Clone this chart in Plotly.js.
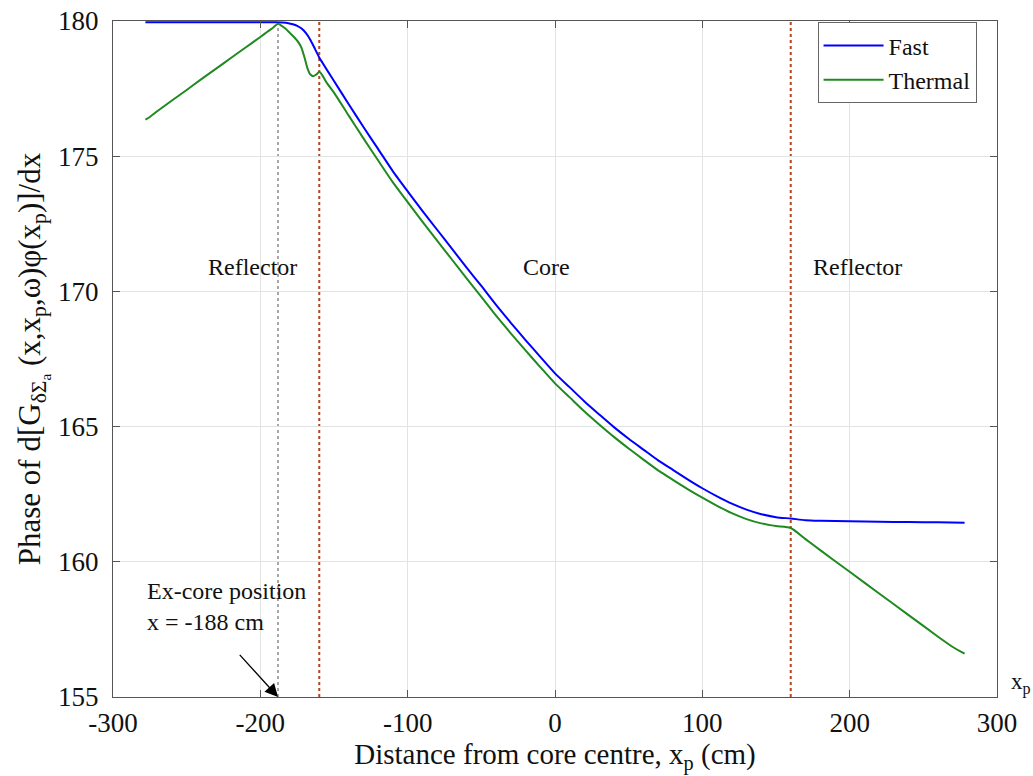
<!DOCTYPE html>
<html>
<head>
<meta charset="utf-8">
<script src="https://cdn.plot.ly/plotly-3.0.1.min.js"></script>
<style>html,body{margin:0;padding:0;background:#fff;}</style>
</head>
<body>
<div id="chart" style="width:1033px;height:776px;"></div>
<script>
// Fast group phase
const fastX = [-278, -250, -220, -200, -190, -185, -181, -178, -175, -172, -169, -166, -163, -160, -150, -140, -130, -120, -110, -100, -90, -80, -70, -60, -50, -40, -30, -20, -10, 0, 10, 20, 30, 40, 50, 60, 70, 80, 90, 100, 110, 120, 130, 140, 150, 160, 170, 180, 200, 220, 240, 260, 278];
const fastY = [179.95, 179.95, 179.95, 179.95, 179.95, 179.94, 179.92, 179.88, 179.82, 179.72, 179.55, 179.3, 178.98, 178.65, 177.78, 176.92, 176.08, 175.26, 174.44, 173.7, 172.98, 172.28, 171.58, 170.88, 170.2, 169.5, 168.84, 168.2, 167.58, 166.97, 166.45, 165.93, 165.45, 164.98, 164.55, 164.15, 163.75, 163.4, 163.05, 162.72, 162.42, 162.15, 161.93, 161.76, 161.65, 161.6, 161.54, 161.52, 161.5, 161.48, 161.47, 161.46, 161.44];

// Thermal group phase
const thermalX = [-278, -275, -270, -260, -250, -240, -230, -220, -210, -200, -195, -191, -188, -186, -183, -180, -177, -174, -172, -170, -168, -166, -164, -162, -160, -158, -155, -150, -140, -130, -120, -110, -100, -90, -80, -70, -60, -50, -40, -30, -20, -10, 0, 10, 20, 30, 40, 50, 60, 70, 80, 90, 100, 110, 120, 130, 140, 150, 160, 170, 180, 200, 220, 240, 260, 270, 278];
const thermalY = [176.35, 176.45, 176.66, 177.06, 177.45, 177.85, 178.24, 178.63, 179.02, 179.41, 179.61, 179.77, 179.9, 179.84, 179.72, 179.56, 179.4, 179.2, 179.0, 178.65, 178.25, 178.02, 177.96, 178.02, 178.12, 178.0, 177.72, 177.35, 176.5, 175.66, 174.84, 174.03, 173.3, 172.58, 171.88, 171.18, 170.48, 169.8, 169.1, 168.45, 167.82, 167.2, 166.6, 166.08, 165.56, 165.08, 164.62, 164.19, 163.78, 163.38, 163.03, 162.69, 162.37, 162.07, 161.8, 161.58, 161.42, 161.32, 161.25, 160.84, 160.43, 159.63, 158.83, 158.03, 157.23, 156.85, 156.6];

const seriesNames = ["Fast", "Thermal"];
const xTicks = [-300, -200, -100, 0, 100, 200, 300];
const yTicks = [155, 160, 165, 170, 175, 180];
const exCorePosition = -188;
const coreBoundaries = [-160, 160];
const regionLabels = ["Reflector", "Core", "Reflector"];
const regionLabelX = [-205, -6, 205];
const regionLabelY = 170.9;

const FONT = "'Liberation Serif', 'Times New Roman', serif";

const traces = [
  {x: fastX, y: fastY, name: seriesNames[0], type: 'scatter', mode: 'lines',
   line: {color: '#0000ff', width: 2, shape: 'spline', smoothing: 0.6}},
  {x: thermalX, y: thermalY, name: seriesNames[1], type: 'scatter', mode: 'lines',
   line: {color: '#1f8a1f', width: 2, shape: 'spline', smoothing: 0.6}}
];

const shapes = [
  {type: 'line', xref: 'x', yref: 'paper', x0: exCorePosition, x1: exCorePosition, y0: 0, y1: 1,
   line: {color: '#8c8c8c', width: 1.5, dash: 'dot'}, layer: 'below'}
];
coreBoundaries.forEach(b => shapes.push(
  {type: 'line', xref: 'x', yref: 'paper', x0: b, x1: b, y0: 0, y1: 1,
   line: {color: '#b5451e', width: 2, dash: 'dot'}, layer: 'below'}
));

const annotations = regionLabels.map((t, i) => ({
  x: regionLabelX[i], y: regionLabelY, xref: 'x', yref: 'y', text: t, showarrow: false,
  font: {family: FONT, size: 24, color: '#111'}
}));
annotations.push({
  x: -278.5, y: 158.35, xref: 'x', yref: 'y', xanchor: 'left', yanchor: 'middle', align: 'left',
  text: 'Ex-core position<br>x = -188 cm', showarrow: false,
  font: {family: FONT, size: 24, color: '#111'}
});
annotations.push({
  x: exCorePosition, y: 155, xref: 'x', yref: 'y', ax: -216, ay: 156.68, axref: 'x', ayref: 'y',
  text: ' ', showarrow: true, arrowhead: 2, arrowsize: 2, arrowwidth: 1.3, arrowcolor: '#000'
});
annotations.push({
  x: 1.014, y: 0.02, xref: 'paper', yref: 'paper', xanchor: 'left', yanchor: 'middle',
  text: 'x<sub>p</sub>', showarrow: false, font: {family: FONT, size: 23, color: '#111'}
});

const axisCommon = {
  showline: true, linecolor: '#555', linewidth: 1, mirror: 'ticks',
  ticks: 'inside', ticklen: 7, tickcolor: '#555', tickwidth: 1,
  showgrid: true, gridcolor: '#e3e3e3', gridwidth: 1, zeroline: false,
  tickfont: {family: FONT, size: 27, color: '#111'}
};

const layout = {
  width: 1033, height: 776,
  margin: {l: 113, r: 36, t: 21, b: 79},
  paper_bgcolor: '#fff', plot_bgcolor: '#fff',
  showlegend: true,
  legend: {x: 0.797, y: 0.998, xanchor: 'left', yanchor: 'top',
           bordercolor: '#666', borderwidth: 1, bgcolor: '#fff', itemwidth: 60,
           font: {family: FONT, size: 24, color: '#111'}, tracegroupgap: 0},
  xaxis: Object.assign({}, axisCommon, {
    range: [-300, 300], tickvals: xTicks, ticktext: xTicks.map(String),
    ticklabelstandoff: 2,
    title: {text: 'Distance from core centre, x<sub>p</sub> (cm)', standoff: 4,
            font: {family: FONT, size: 29, color: '#111'}}
  }),
  yaxis: Object.assign({}, axisCommon, {
    range: [155, 180], tickvals: yTicks, ticktext: yTicks.map(String),
    ticklabelstandoff: 8,
    title: {text: 'Phase of d[G<sub>δΣ<sub>a</sub></sub> (x,x<sub>p</sub>,ω)φ(x<sub>p</sub>)]/dx', standoff: 8,
            font: {family: FONT, size: 31, color: '#111'}}
  }),
  shapes: shapes,
  annotations: annotations
};

Plotly.newPlot('chart', traces, layout, {displayModeBar: false, staticPlot: true});
</script>
</body>
</html>
